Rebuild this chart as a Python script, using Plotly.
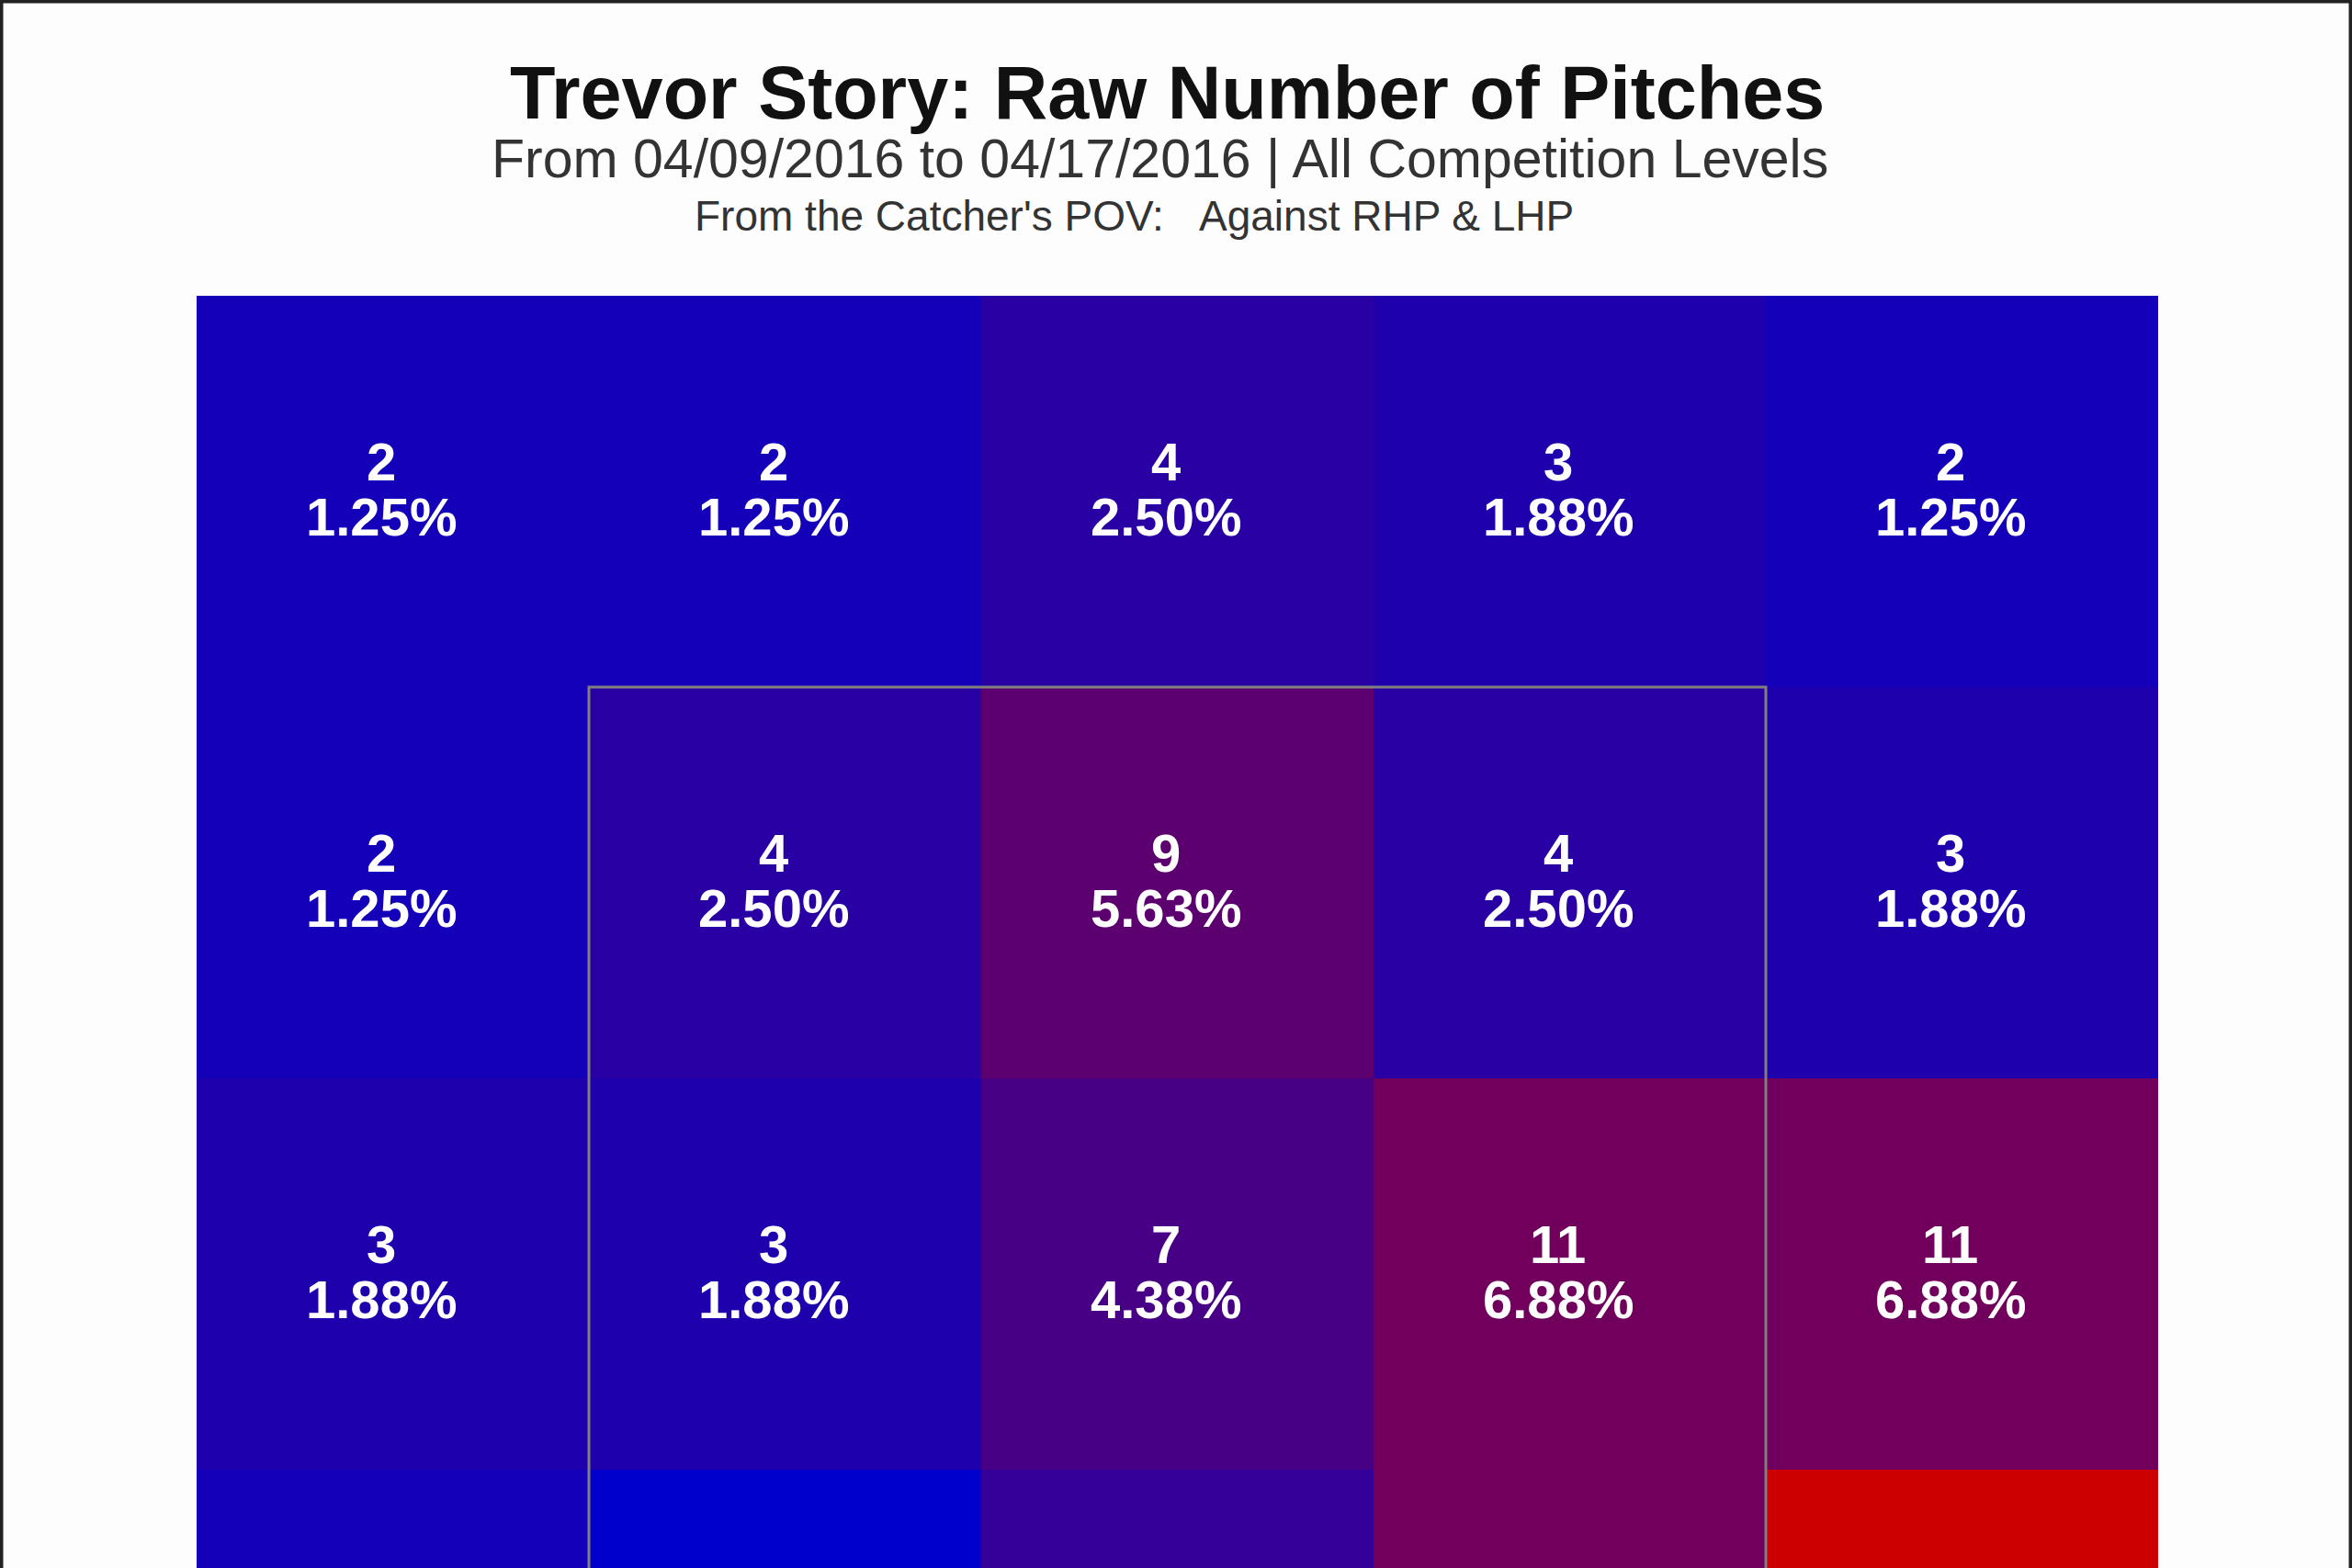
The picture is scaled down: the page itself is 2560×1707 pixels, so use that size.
import plotly.graph_objects as go
import math

# zone grid, catcher's view: rows top -> bottom, columns left -> right
cols = [0, 1, 2, 3, 4]
rows = [0, 1, 2, 3]
pitches = [
    [2, 2, 4, 3, 2],
    [2, 4, 9, 4, 3],
    [3, 3, 7, 11, 11],
    [2, 0, 5, 11, 20],
]
total_pitches = 160

title = "Trevor Story: Raw Number of Pitches"
subtitle = "From 04/09/2016 to 04/17/2016 | All Competition Levels"
subtitle2 = "From the Catcher's POV:\u00a0\u00a0\u00a0Against RHP & LHP"


def pct(v):
    p = math.floor(v / total_pitches * 10000 + 0.5) / 100
    return "%.2f%%" % p


fig = go.Figure(go.Heatmap(
    x=cols, y=rows, z=pitches,
    colorscale=[[0, "#0000cc"], [1, "#cc0000"]],
    zmin=0, zmax=20,
    showscale=False, hoverinfo="skip",
))

for r in rows:
    for c in cols:
        v = pitches[r][c]
        fig.add_annotation(x=c, y=r, text="<b>%d</b>" % v, showarrow=False, yshift=33, xshift=-13,
                           font=dict(size=58, color="white", family="Liberation Sans, Arial"))
        fig.add_annotation(x=c, y=r, text="<b>%s</b>" % pct(v), showarrow=False, yshift=-27, xshift=-13,
                           font=dict(size=58, color="white", family="Liberation Sans, Arial"))

# strike zone outline
fig.add_shape(type="rect", x0=0.5, x1=3.5, y0=0.5, y1=3.5,
              line=dict(color="#808080", width=3), fillcolor="rgba(0,0,0,0)")

# outer frame of the picture
fig.add_shape(type="rect", xref="paper", yref="paper",
              x0=-214 / 2135, x1=(2560 - 214) / 2135, y0=-0.05, y1=1 + 322 / 1385,
              line=dict(color="#222222", width=7), layer="above")

fig.add_annotation(xref="paper", yref="paper", x=0.495, y=1.1596, text="<b>%s</b>" % title,
                   showarrow=False, xanchor="center", yanchor="middle",
                   font=dict(size=81, color="#111111", family="Liberation Sans, Arial"))
fig.add_annotation(xref="paper", yref="paper", x=0.491, y=1.1076, text=subtitle,
                   showarrow=False, xanchor="center", yanchor="middle",
                   font=dict(size=59, color="#333333", family="Liberation Sans, Arial"))
fig.add_annotation(xref="paper", yref="paper", x=0.478, y=1.0628, text=subtitle2,
                   showarrow=False, xanchor="center", yanchor="middle",
                   font=dict(size=46, color="#333333", family="Liberation Sans, Arial"))

fig.update_xaxes(range=[-0.5, 4.5], visible=False, showgrid=False, zeroline=False)
fig.update_yaxes(range=[2.751, -0.5], visible=False, showgrid=False, zeroline=False)
fig.update_layout(
    width=2560, height=1707,
    margin=dict(l=214, r=211, t=322, b=0),
    paper_bgcolor="#fdfdfd", plot_bgcolor="#fdfdfd",
    showlegend=False,
)
fig.write_html("out.html", config={"displayModeBar": False},
               post_script="document.body.style.margin='0';")
